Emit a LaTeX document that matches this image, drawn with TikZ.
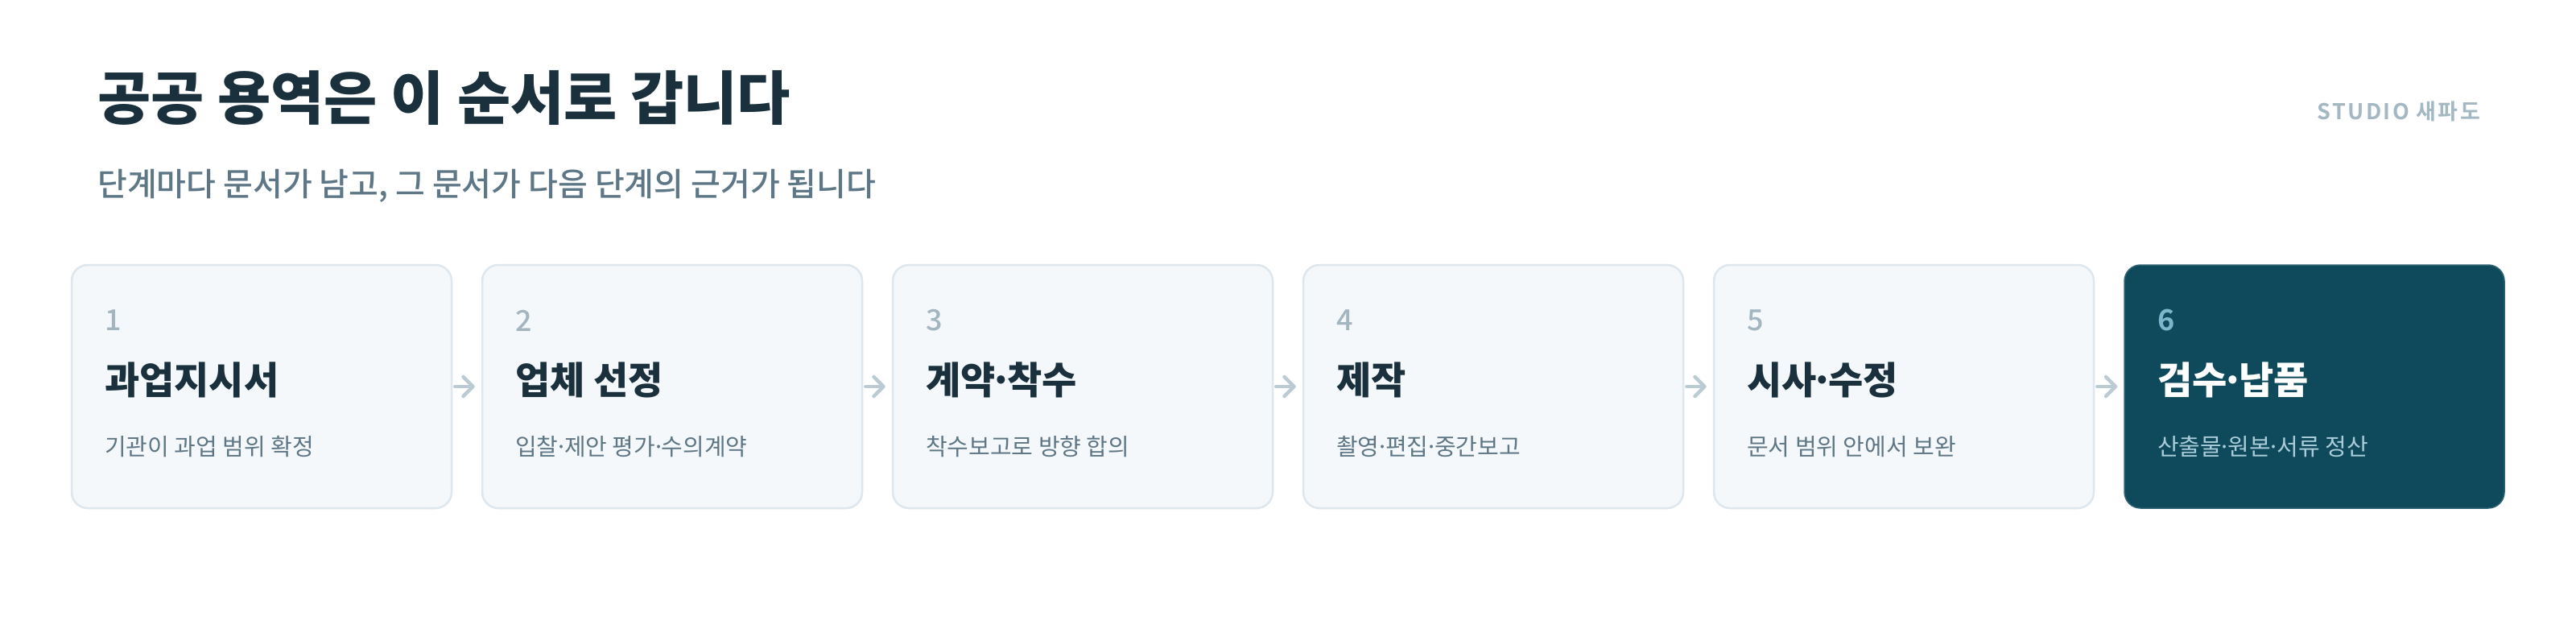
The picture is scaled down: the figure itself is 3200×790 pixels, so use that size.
\documentclass[tikz,border=0pt]{standalone}
\usepackage{fontspec}
\usetikzlibrary{arrows.meta,calc}
\setmainfont{Noto Sans CJK KR}
\newfontfamily\krK{Noto Sans CJK KR Black}
\newfontfamily\krB{Noto Sans CJK KR Bold}
\newfontfamily\krBS[LetterSpace=9]{Noto Sans CJK KR Bold}
\newfontfamily\krM{Noto Sans CJK KR Medium}
\newfontfamily\krR{Noto Sans CJK KR}
\newcommand{\md}{\kern-0.15em·\kern-0.15em}
\definecolor{ink}{HTML}{1A313D}
\definecolor{subc}{HTML}{5E7786}
\definecolor{brand}{HTML}{A3B8C3}
\definecolor{cardfill}{HTML}{F4F8FB}
\definecolor{cardline}{HTML}{DDE7ED}
\definecolor{numc}{HTML}{A3B5BF}
\definecolor{descc}{HTML}{5F7784}
\definecolor{arrowc}{HTML}{BBCBD4}
\definecolor{darkfill}{HTML}{0F4A5C}
\definecolor{darkline}{HTML}{2C6273}
\definecolor{darknum}{HTML}{7DB6CC}
\definecolor{darkdesc}{HTML}{A9CCD8}
\tikzset{
  card/.style={rectangle, rounded corners=20pt, minimum width=472pt, minimum height=302pt, draw=cardline, line width=2.5pt, fill=cardfill, inner sep=0pt},
  darkcard/.style={card, draw=darkline, fill=darkfill, line width=1.5pt},
  numtext/.style={anchor=west, inner sep=0pt, font=\krM\fontsize{36}{40}\selectfont, text=numc},
  titletext/.style={anchor=west, inner sep=0pt, font=\krK\fontsize{47}{50}\selectfont, text=ink},
  desctext/.style={anchor=west, inner sep=0pt, font=\krR\fontsize{29}{32}\selectfont, text=descc},
  flow/.style={draw=arrowc, line width=4.5pt, line cap=round, -{Straight Barb[length=12pt,width=24pt,round]}, shorten <=3pt, shorten >=8pt}
}
\begin{document}
\begin{tikzpicture}[x=1pt,y=-1pt]
\useasboundingbox[fill=white] (0,0) rectangle (3200,790);
\node[anchor=west, inner sep=0pt, font=\krK\fontsize{72}{76}\selectfont, text=ink] (head) at (121,122) {공공 용역은 이 순서로 갑니다};
\node[anchor=west, inner sep=0pt, font=\krM\fontsize{40}{44}\selectfont, text=subc] (sub) at (121,231) {단계마다 문서가 남고, 그 문서가 다음 단계의 근거가 됩니다};
\node[anchor=east, inner sep=0pt, font=\krBS\fontsize{27}{30}\selectfont, text=brand] (brandname) at (3081,138) {STUDIO 새파도};
\foreach \i/\t/\d in {1/과업지시서/기관이 과업 범위 확정, 2/업체 선정/입찰\md 제안 평가\md 수의계약, 3/계약\md 착수/착수보고로 방향 합의, 4/제작/촬영\md 편집\md 중간보고, 5/시사\md 수정/문서 범위 안에서 보완}{
  \node[card] (box\i) at ({325+510*(\i-1)},480) {};
  \node[numtext] (n\i) at ({130+510*(\i-1)},398) {\i};
  \node[titletext] (t\i) at ({130+510*(\i-1)},471.5) {\t};
  \node[desctext] (d\i) at ({130+510*(\i-1)},555) {\d};
}
\node[darkcard] (box6) at (2875,480) {};
\node[numtext, text=darknum, font=\krB\fontsize{36}{40}\selectfont] (n6) at (2680,398) {6};
\node[titletext, text=white] (t6) at (2680,471.5) {검수\md 납품};
\node[desctext, text=darkdesc] (d6) at (2680,555) {산출물\md 원본\md 서류 정산};
\foreach \a/\b in {1/2,2/3,3/4,4/5,5/6}{
  \draw[flow] (box\a.east) -- (box\b.west);
}
\end{tikzpicture}
\end{document}
